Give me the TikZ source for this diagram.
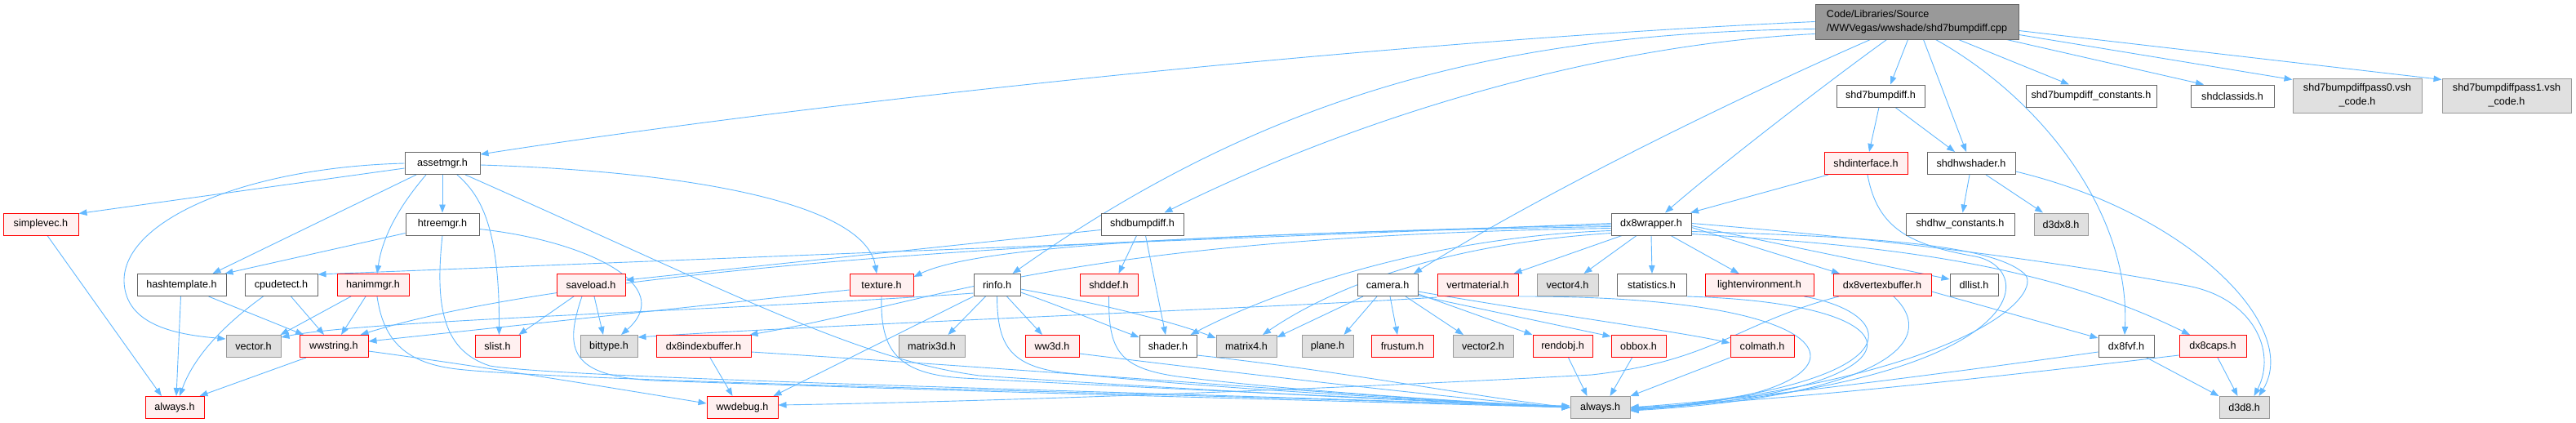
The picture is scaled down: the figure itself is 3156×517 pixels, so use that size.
\documentclass[tikz,border=0pt]{standalone}
\usepackage{fontspec}
\setmainfont{Liberation Sans}
\usetikzlibrary{arrows.meta}
\definecolor{edgec}{HTML}{63B8FF}
\definecolor{wborder}{HTML}{666666}
\definecolor{gborder}{HTML}{999999}
\definecolor{gfill}{HTML}{E0E0E0}
\definecolor{rfill}{HTML}{FFF0F0}
\definecolor{rootfill}{HTML}{999999}
\definecolor{rborder}{HTML}{FF0000}
\pgfdeclarelayer{bg}
\pgfsetlayers{bg,main}
\tikzset{
  base/.style={rectangle, inner sep=0pt, minimum height=27pt, line width=1pt, font=\fontsize{12.6}{17}\selectfont},
  wn/.style={base, draw=wborder, fill=white},
  gn/.style={base, draw=gborder, fill=gfill},
  rn/.style={base, draw=rborder, fill=rfill},
  rootn/.style={base, draw=wborder, fill=rootfill, minimum height=43pt, align=left},
  e/.style={draw=edgec, line width=0.9pt, -{Triangle[length=10pt,width=7.5pt]}},
}
\begin{document}
\begin{tikzpicture}[x=1pt,y=-1pt]
\useasboundingbox (0,0) rectangle (3156,517);
% ---------- nodes ----------
\node[rootn, minimum width=249pt] (R) at (2348.5,26.5) {Code/Libraries/Source\\/WWVegas/wwshade/shd7bumpdiff.cpp};
\node[wn, minimum width=108pt] (shd7h) at (2304,117.5) {shd7bumpdiff.h};
\node[wn, minimum width=160pt] (constn) at (2562,117.5) {shd7bumpdiff\_constants.h};
\node[wn, minimum width=102pt] (classids) at (2735,117.5) {shdclassids.h};
\node[gn, minimum width=158pt, minimum height=42pt, align=center] (pass0) at (2888,117) {shd7bumpdiffpass0.vsh\\\_code.h};
\node[gn, minimum width=158pt, minimum height=42pt, align=center] (pass1) at (3071,117) {shd7bumpdiffpass1.vsh\\\_code.h};
\node[rn, minimum width=102pt] (shdiface) at (2286,200) {shdinterface.h};
\node[wn, minimum width=108pt] (shdhw) at (2415,200) {shdhwshader.h};
\node[wn, minimum width=92pt] (assetmgr) at (542,200) {assetmgr.h};
\node[wn, minimum width=101pt] (shdbump) at (1399.5,274.5) {shdbumpdiff.h};
\node[wn, minimum width=98pt] (dx8wrap) at (2023,274.5) {dx8wrapper.h};
\node[wn, minimum width=133pt] (shdhwc) at (2401.5,274.5) {shdhw\_constants.h};
\node[gn, minimum width=66pt] (d3dx8) at (2525,274.5) {d3dx8.h};
\node[wn, minimum width=90pt] (htree) at (542,274.5) {htreemgr.h};
\node[rn, minimum width=92pt] (simplevec) at (50,274.5) {simplevec.h};
\node[wn, minimum width=109pt] (hashtpl) at (222.5,349) {hashtemplate.h};
\node[wn, minimum width=89pt] (cpudet) at (344.5,349) {cpudetect.h};
\node[rn, minimum width=88pt] (hanim) at (457,349) {hanimmgr.h};
\node[rn, minimum width=84pt] (saveload) at (724,349) {saveload.h};
\node[rn, minimum width=78pt] (texture) at (1080,349) {texture.h};
\node[wn, minimum width=57pt] (rinfo) at (1221.5,349) {rinfo.h};
\node[rn, minimum width=71pt] (shddef) at (1358.5,349) {shddef.h};
\node[wn, minimum width=74pt] (camera) at (1700,349) {camera.h};
\node[rn, minimum width=99pt] (vertmat) at (1810.5,349) {vertmaterial.h};
\node[gn, minimum width=75pt] (vector4) at (1920.5,349) {vector4.h};
\node[wn, minimum width=85pt] (stats) at (2023.5,349) {statistics.h};
\node[rn, minimum width=133pt] (lightenv) at (2155.5,349) {lightenvironment.h};
\node[rn, minimum width=120pt] (dx8vb) at (2306,349) {dx8vertexbuffer.h};
\node[wn, minimum width=59pt] (dllist) at (2418.5,349) {dllist.h};
\node[gn, minimum width=67pt] (vector) at (310.5,424) {vector.h};
\node[rn, minimum width=84pt] (wwstring) at (409,424) {wwstring.h};
\node[rn, minimum width=55pt] (slist) at (609.5,424) {slist.h};
\node[gn, minimum width=70pt] (bittype) at (746,424) {bittype.h};
\node[rn, minimum width=116pt] (dx8ib) at (862,424) {dx8indexbuffer.h};
\node[gn, minimum width=81pt] (matrix3d) at (1141.5,424) {matrix3d.h};
\node[rn, minimum width=66pt] (ww3d) at (1289,424) {ww3d.h};
\node[wn, minimum width=70pt] (shader) at (1431,424) {shader.h};
\node[gn, minimum width=74pt] (matrix4) at (1527,424) {matrix4.h};
\node[gn, minimum width=63pt] (plane) at (1626.5,424) {plane.h};
\node[rn, minimum width=76pt] (frustum) at (1718,424) {frustum.h};
\node[gn, minimum width=74pt] (vector2) at (1817,424) {vector2.h};
\node[rn, minimum width=73pt] (rendobj) at (1914.5,424) {rendobj.h};
\node[rn, minimum width=67pt] (obbox) at (2007.5,424) {obbox.h};
\node[rn, minimum width=78pt] (colmath) at (2159,424) {colmath.h};
\node[wn, minimum width=68pt] (dx8fvf) at (2605,424) {dx8fvf.h};
\node[rn, minimum width=82pt] (dx8caps) at (2711,424) {dx8caps.h};
\node[rn, minimum width=72pt] (alwaysL) at (214,499) {always.h};
\node[rn, minimum width=87pt] (wwdebug) at (909.5,499) {wwdebug.h};
\node[gn, minimum width=73pt] (alwaysR) at (1960.5,499) {always.h};
\node[gn, minimum width=61pt] (d3d8) at (2749.5,499) {d3d8.h};
% ---------- edges ----------
\begin{pgfonlayer}{bg}
% root
\draw[e] (R.west) .. controls (1700,50) and (1000,125) .. ([yshift=-3pt]assetmgr.north east);
\draw[e] ([yshift=-9pt]R.west) .. controls (1850,40) and (1560,110) .. ([xshift=19pt]rinfo.north);
\draw[e] ([yshift=-15pt]R.west) .. controls (1950,55) and (1655,147) .. ([xshift=27pt]shdbump.north);
\draw[e] ([xshift=-57pt]R.south) .. controls (2150,110) and (1900,230) .. ([xshift=32pt]camera.north);
\draw[e] ([xshift=-37pt]R.south) .. controls (2240,100) and (2110,200) .. ([xshift=17pt]dx8wrap.north);
\draw[e] ([xshift=-11pt]R.south) -- ([xshift=12pt]shd7h.north);
\draw[e] ([xshift=8pt]R.south) -- ([xshift=-6pt]shdhw.north);
\draw[e] ([xshift=23pt]R.south) .. controls (2500,120) and (2610,260) .. ([xshift=-2pt]dx8fvf.north);
\draw[e] ([xshift=51pt]R.south) -- ([xshift=-27pt]constn.north);
\draw[e] ([xshift=-15pt]R.south east) -- ([xshift=-35pt]classids.north);
\draw[e] ([yshift=-16pt]R.east) -- ([yshift=-2pt]pass0.north west);
\draw[e] ([yshift=-11pt]R.east) -- ([yshift=-2pt]pass1.north west);
% shd7bumpdiff.h
\draw[e] ([xshift=-2pt]shd7h.south) -- ([xshift=4pt]shdiface.north);
\draw[e] ([xshift=18pt]shd7h.south) -- ([xshift=-20pt]shdhw.north);
% shdhwshader.h
\draw[e] ([xshift=-2pt]shdhw.south) -- ([xshift=3pt]shdhwc.north);
\draw[e] ([xshift=18pt]shdhw.south) -- ([xshift=-22pt]d3dx8.north);
\draw[e] ([yshift=-10pt]shdhw.east) .. controls (2680,260) and (2820,400) .. ([xshift=18pt]d3d8.north);
% shdinterface.h
\draw[e] ([xshift=-46pt]shdiface.south) -- ([xshift=48pt]dx8wrap.north);
\draw[e] ([xshift=2pt]shdiface.south) .. controls (2300,280) and (2340,300) .. (2420,314) .. controls (2500,330) and (2490,470) .. ([yshift=-2pt]alwaysR.east);
% assetmgr.h
\draw[e] ([yshift=-6pt]assetmgr.west) -- ([yshift=-1pt]simplevec.north east);
\draw[e] (assetmgr.west) .. controls (300,205) and (150,270) .. (152,345) .. controls (154,400) and (220,410) .. ([yshift=-5pt]vector.north west);
\draw[e] ([xshift=-32pt]assetmgr.south) -- ([xshift=38pt]hashtpl.north);
\draw[e] ([xshift=-20pt]assetmgr.south) .. controls (500,240) and (470,280) .. ([xshift=5pt]hanim.north);
\draw[e] (assetmgr.south) -- (htree.north);
\draw[e] ([xshift=18pt]assetmgr.south) .. controls (590,240) and (612,280) .. ([xshift=2pt]slist.north);
\draw[e] ([xshift=28pt]assetmgr.south) .. controls (900,360) and (1050,440) .. (1200,460) .. controls (1500,480) and (1800,495) .. ([yshift=2pt]alwaysR.west);
\draw[e] ([yshift=-2pt]assetmgr.east) .. controls (850,210) and (1060,250) .. ([xshift=-6pt]texture.north);
% htreemgr.h
\draw[e] ([yshift=-11pt]htree.west) -- ([xshift=-2pt]hashtpl.north east);
\draw[e] ([yshift=-6pt]htree.east) .. controls (720,295) and (830,350) .. ([xshift=15pt]bittype.north);
\draw[e] (htree.south) .. controls (532,380) and (545,430) .. (600,448) .. controls (700,465) and (1500,482) .. (alwaysR.west);
% left cluster
\draw[e] ([xshift=8pt]simplevec.south) -- ([xshift=-16pt]alwaysL.north);
\draw[e] ([xshift=-1pt]hashtpl.south) -- ([xshift=2pt]alwaysL.north);
\draw[e] ([xshift=33pt]hashtpl.south) -- ([xshift=-37pt]wwstring.north);
\draw[e] ([xshift=-22pt]cpudet.south) .. controls (285,390) and (240,430) .. ([xshift=6pt]alwaysL.north);
\draw[e] ([xshift=12pt]cpudet.south) -- ([xshift=-12pt]wwstring.north);
\draw[e] ([xshift=-27pt]hanim.south) -- ([xshift=33pt]vector.north);
\draw[e] ([xshift=-9pt]hanim.south) -- ([xshift=9pt]wwstring.north);
\draw[e] ([xshift=5pt]hanim.south) .. controls (470,420) and (500,445) .. (560,452) .. controls (700,468) and (1500,483) .. (alwaysR.west);
\draw[e] ([xshift=-34pt]wwstring.south) -- ([xshift=-6pt]alwaysL.north east);
\draw[e] ([yshift=-6pt]wwstring.east) .. controls (600,450) and (780,480) .. ([yshift=5pt]wwdebug.west);
% saveload.h
\draw[e] ([xshift=-21pt]saveload.south) -- ([xshift=-2pt]slist.north east);
\draw[e] ([xshift=4pt]saveload.south) -- ([xshift=-7pt]bittype.north);
\draw[e] ([xshift=-11pt]saveload.south) .. controls (690,430) and (700,460) .. (800,466) .. controls (1200,480) and (1600,490) .. (alwaysR.west);
% shdbumpdiff.h
\draw[e] ([yshift=-7pt]shdbump.west) -- ([yshift=6pt]saveload.east);
\draw[e] ([xshift=-7pt]shdbump.south) -- ([xshift=12pt]shddef.north);
\draw[e] ([xshift=4pt]shdbump.south) -- ([xshift=-3pt]shader.north);
\draw[e] (shddef.south) .. controls (1358,430) and (1370,452) .. (1450,462) .. controls (1600,480) and (1800,492) .. (alwaysR.west);
% texture.h
\draw[e] ([yshift=-6pt]texture.west) -- ([yshift=6pt]wwstring.east);
\draw[e] (texture.south) .. controls (1078,430) and (1100,458) .. (1180,463) .. controls (1500,480) and (1800,492) .. (alwaysR.west);
% rinfo.h
\draw[e] ([yshift=-10pt]rinfo.west) .. controls (900,380) and (450,392) .. ([yshift=-3pt]vector.north east);
\draw[e] (rinfo.south west) -- ([xshift=-6pt]wwdebug.north east);
\draw[e] ([xshift=-14pt]rinfo.south) -- ([xshift=20pt]matrix3d.north);
\draw[e] ([xshift=12pt]rinfo.south) -- ([xshift=-12pt]ww3d.north);
\draw[e] ([yshift=-9pt]rinfo.east) .. controls (1300,375) and (1360,400) .. ([yshift=-3pt]shader.north west);
\draw[e] ([yshift=-5pt]rinfo.east) .. controls (1350,372) and (1440,395) .. ([yshift=-4pt]matrix4.north west);
\draw[e] (rinfo.south) .. controls (1222,420) and (1235,447) .. (1300,456) .. controls (1500,478) and (1800,492) .. (alwaysR.west);
\draw[e] ([yshift=-9pt]ww3d.east) .. controls (1500,455) and (1800,490) .. (alwaysR.west);
\draw[e] ([yshift=-11pt]shader.east) .. controls (1650,455) and (1800,485) .. (alwaysR.west);
% dx8indexbuffer.h
\draw[e] ([xshift=8pt]dx8ib.south) -- ([xshift=-12pt]wwdebug.north);
\draw[e] ([yshift=-7pt]dx8ib.east) .. controls (1300,455) and (1700,488) .. (alwaysR.west);
% camera.h
\draw[e] ([xshift=-13pt]camera.south) -- ([xshift=20pt]plane.north);
\draw[e] ([xshift=3pt]camera.south) -- ([xshift=-6pt]frustum.north);
\draw[e] ([xshift=22pt]camera.south) -- ([xshift=-24pt]vector2.north);
\draw[e] ([yshift=-11pt]camera.east) -- (rendobj.north west);
\draw[e] ([yshift=-13pt]camera.east) -- ([yshift=-2pt]obbox.north west);
\draw[e] ([yshift=-8pt]camera.east) .. controls (1900,385) and (2050,405) .. ([yshift=4pt]colmath.west);
\draw[e] ([xshift=-30pt]camera.south) -- ([yshift=-3pt]matrix4.north east);
\draw[e] ([xshift=7pt]rendobj.south) -- ([xshift=-16pt]alwaysR.north);
\draw[e] ([xshift=-8pt]obbox.south) -- ([xshift=12pt]alwaysR.north);
\draw[e] (colmath.south west) -- (alwaysR.north east);
% dx8wrapper.h
\draw[e] ([xshift=-36pt]dx8wrap.south) -- ([xshift=44pt]vertmat.north);
\draw[e] ([xshift=-18pt]dx8wrap.south) -- ([xshift=20pt]vector4.north);
\draw[e] (dx8wrap.south) -- ([xshift=0.5pt]stats.north);
\draw[e] ([xshift=24pt]dx8wrap.south) -- ([xshift=-25pt]lightenv.north);
\draw[e] ([yshift=-4pt]dx8wrap.east) -- ([xshift=-52pt]dx8vb.north);
\draw[e] ([yshift=-2pt]dx8wrap.east) -- ([yshift=7pt]dllist.west);
\draw[e] ([yshift=1pt]dx8wrap.east) .. controls (2400,300) and (2600,335) .. (2680,350) .. controls (2760,365) and (2790,430) .. ([xshift=12pt]d3d8.north);
\draw[e] ([yshift=-12pt]dx8wrap.east) .. controls (2300,300) and (2500,320) .. ([xshift=-28pt]dx8caps.north);
\draw[e] ([yshift=-9pt]dx8wrap.east) .. controls (2300,290) and (2440,300) .. (2480,335) .. controls (2505,358) and (2420,460) .. ([yshift=-4pt]alwaysR.east);
\draw[e] ([yshift=1pt]dx8wrap.west) -- ([yshift=-1pt]cpudet.north east);
\draw[e] ([yshift=-1pt]dx8wrap.west) .. controls (1300,290) and (700,330) .. ([xshift=-10pt]wwstring.north east);
\draw[e] ([yshift=-3pt]dx8wrap.west) .. controls (1500,285) and (1200,300) .. ([yshift=-4pt]texture.north east);
\draw[e] ([yshift=-5pt]dx8wrap.west) .. controls (1300,290) and (1150,370) .. ([xshift=-2pt]dx8ib.north east);
\draw[e] ([yshift=-8pt]dx8wrap.west) .. controls (1750,290) and (1560,357) .. ([xshift=-8pt]shader.north east);
\draw[e] ([yshift=-11pt]dx8wrap.west) .. controls (1750,300) and (1620,360) .. ([xshift=20pt]matrix4.north);
% right-hand nodes into always.h
\draw[e] ([yshift=-1pt]vertmat.south west) .. controls (1600,375) and (1000,398) .. ([yshift=-3pt]bittype.north east);
\draw[e] (vertmat.south east) .. controls (2320,362) and (2300,490) .. ([yshift=-1pt]alwaysR.east);
\draw[e] (stats.south east) .. controls (2380,372) and (2360,480) .. ([yshift=-3pt]alwaysR.east);
\draw[e] ([xshift=55pt]lightenv.south) .. controls (2330,385) and (2350,470) .. ([yshift=-3pt]alwaysR.east);
\draw[e] ([xshift=14pt]dx8vb.south) .. controls (2380,420) and (2300,485) .. ([yshift=-4pt]alwaysR.east);
\draw[e] ([yshift=-8pt]dx8vb.east) -- ([yshift=10pt]dx8fvf.west);
\draw[e] ([xshift=-53pt]dx8vb.south) .. controls (2130,395) and (2100,442) .. (1950,459) .. controls (1600,478) and (1200,492) .. ([yshift=3pt]wwdebug.east);
\draw[e] ([yshift=-7pt]dx8fvf.west) .. controls (2400,455) and (2150,488) .. (alwaysR.east);
\draw[e] ([xshift=25pt]dx8fvf.south) -- (d3d8.north west);
\draw[e] ([yshift=-11pt]dx8caps.west) .. controls (2500,455) and (2200,490) .. (alwaysR.east);
\draw[e] ([xshift=6pt]dx8caps.south) -- ([xshift=-8pt]d3d8.north);
\end{pgfonlayer}
\end{tikzpicture}
\end{document}
